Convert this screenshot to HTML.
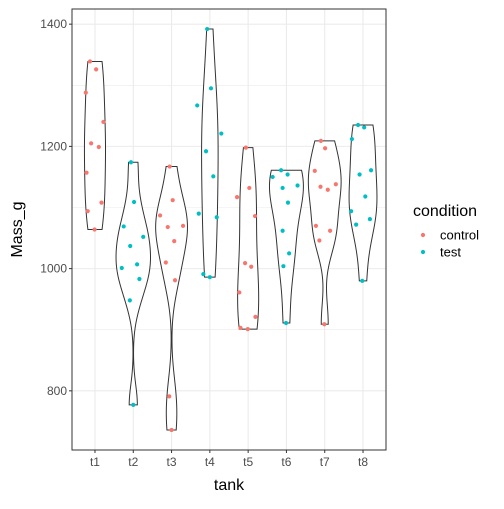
<!DOCTYPE html>
<html><head><meta charset="utf-8"><style>
body{margin:0;background:#fff}
svg text{font-family:"Liberation Sans",Arial,sans-serif}
</style></head><body>
<svg id="chart" width="504" height="504" viewBox="0 0 504 504" xmlns="http://www.w3.org/2000/svg"></svg>
<script>
const categories=["t1","t2","t3","t4","t5","t6","t7","t8"];
const groupCondition=["control","test","control","test","control","test","control","test"];
const massT1=[1339,1326,1288,1240,1205,1199,1157,1108,1094,1064];
const massT2=[1174,1109,1069,1052,1037,1001,1007,983,948,777];
const massT3=[1167,1112,1087,1068,1070,1045,1010,981,791,736];
const massT4=[1392,1295,1267,1221,1192,1151,1090,1084,991,986];
const massT5=[1198,1117,1132,1086,1009,1003,961,921,903,901];
const massT6=[1161,1150,1154,1136,1132,1108,1062,1025,1004,911];
const massT7=[1209,1197,1160,1134,1129,1138,1070,1062,1046,909];
const massT8=[1235,1231,1212,1154,1161,1118,1094,1072,1081,980];
const jitT1=[-0.13,0.03,-0.24,0.22,-0.10,0.10,-0.22,0.17,-0.19,-0.01];
const jitT2=[-0.06,0.02,-0.25,0.26,-0.08,-0.30,0.10,0.16,-0.09,0];
const jitT3=[-0.05,0.03,-0.30,-0.10,0.30,0.07,-0.15,0.09,-0.06,0];
const jitT4=[-0.07,0.03,-0.33,0.30,-0.10,0.09,-0.29,0.18,-0.17,0];
const jitT5=[-0.06,-0.29,0.03,0.18,-0.08,0.08,-0.23,0.19,-0.20,-0.01];
const jitT6=[-0.14,-0.36,0.03,0.29,-0.10,0.04,-0.10,0.07,-0.08,-0.01];
const jitT7=[-0.10,0.01,-0.26,-0.11,0.08,0.29,-0.23,0.14,-0.14,-0.01];
const jitT8=[-0.13,0.03,-0.29,-0.09,0.21,0.06,-0.31,-0.18,0.18,-0.02];
const yTicks=[800,1000,1200,1400];
const yMinor=[700,900,1100,1300];
const legendLabels=["control","test"];

const masses=[massT1,massT2,massT3,massT4,massT5,massT6,massT7,massT8];
const jitters=[jitT1,jitT2,jitT3,jitT4,jitT5,jitT6,jitT7,jitT8];
const colors={control:"#F8766D",test:"#00BFC4"};
const svg=document.getElementById('chart');
const NS="http://www.w3.org/2000/svg";
const P={l:72,r:386,t:9,b:450};
let all=[].concat(...masses);
let mn=Math.min(...all),mx=Math.max(...all),pad=(mx-mn)*0.05;
const yLo=mn-pad,yHi=mx+pad;
const y=v=>P.b-(v-yLo)/(yHi-yLo)*(P.b-P.t);
const x=i=>P.l+(i+0.6)/8.2*(P.r-P.l);
const unit=(P.r-P.l)/8.2;
function mk(tag,attrs,parent){const e=document.createElementNS(NS,tag);for(const k in attrs)e.setAttribute(k,attrs[k]);(parent||svg).appendChild(e);return e;}

let t;
t=mk('rect',{x:P.l,y:P.t,width:P.r-P.l,height:P.b-P.t,fill:'#fff'});


yMinor.forEach(v=>{if(v>yLo&&v<yHi){let l=mk('line',{x1:P.l,x2:P.r,y1:y(v),y2:y(v),stroke:'#ebebeb','stroke-width':0.6});

}});
yTicks.forEach(v=>{let l=mk('line',{x1:P.l,x2:P.r,y1:y(v),y2:y(v),stroke:'#ebebeb','stroke-width':1.1});

});
categories.forEach((c,i)=>{let l=mk('line',{x1:x(i),x2:x(i),y1:P.t,y2:P.b,stroke:'#ebebeb','stroke-width':1.1});

});

function quantile(s,p){const h=(s.length-1)*p,lo=Math.floor(h);return s[lo]+(h-lo)*((s[lo+1]??s[lo])-s[lo]);}
function bw(d){const n=d.length,m=d.reduce((a,b)=>a+b)/n;const sd=Math.sqrt(d.reduce((a,b)=>a+(b-m)**2,0)/(n-1));const s=[...d].sort((a,b)=>a-b);const iqr=(quantile(s,0.75)-quantile(s,0.25))/1.34;return 0.9*Math.min(sd,iqr)*Math.pow(n,-0.2);}
const dens=masses.map(d=>{const h=bw(d),lo=Math.min(...d),hi=Math.max(...d),pts=[];for(let k=0;k<=200;k++){const v=lo+(hi-lo)*k/200;let s=0;d.forEach(a=>s+=Math.exp(-0.5*((v-a)/h)**2));pts.push([v,s/(d.length*h*Math.sqrt(2*Math.PI))]);}return pts;});
const maxD=Math.max(...dens.map(p=>Math.max(...p.map(q=>q[1]))));
dens.forEach((pts,i)=>{const cx=x(i);let r=pts.map(p=>[cx+p[1]/maxD*0.45*unit,y(p[0])]);let l=pts.slice().reverse().map(p=>[cx-p[1]/maxD*0.45*unit,y(p[0])]);
let d='M'+r.concat(l).map(p=>p[0].toFixed(2)+','+p[1].toFixed(2)).join('L')+'Z';
let e=mk('path',{d:d,fill:'#fff',stroke:'#333','stroke-width':1});

});
masses.forEach((d,i)=>{d.forEach((v,j)=>{let c=mk('circle',{cx:x(i)+jitters[i][j]*unit,cy:y(v),r:2.1,fill:colors[groupCondition[i]]});

});});
t=mk('rect',{x:P.l,y:P.t,width:P.r-P.l,height:P.b-P.t,fill:'none',stroke:'#333','stroke-width':1});


yTicks.forEach(v=>{let l=mk('line',{x1:P.l-3,x2:P.l,y1:y(v),y2:y(v),stroke:'#333'});


let tx=mk('text',{x:P.l-5,y:y(v)+4,'text-anchor':'end','font-size':12,fill:'#4d4d4d'});tx.textContent=v;

});
categories.forEach((c,i)=>{let l=mk('line',{x1:x(i),x2:x(i),y1:P.b,y2:P.b+3,stroke:'#333'});


let tx=mk('text',{x:x(i),y:P.b+16,'text-anchor':'middle','font-size':12,fill:'#4d4d4d'});tx.textContent=c;

});
t=mk('text',{x:(P.l+P.r)/2,y:490,'text-anchor':'middle','font-size':16,fill:'#000'});t.textContent='tank';


t=mk('text',{x:0,y:0,'text-anchor':'middle','font-size':16,fill:'#000',transform:'translate(22,'+((P.t+P.b)/2)+') rotate(-90)'});t.textContent='Mass_g';


t=mk('text',{x:413,y:216,'font-size':16,fill:'#000'});t.textContent='condition';


legendLabels.forEach((lab,k)=>{const yy=235+k*17;let c=mk('circle',{cx:423,cy:yy,r:2.1,fill:colors[lab]});


let tx=mk('text',{x:440,y:yy+4.5,'font-size':13,fill:'#000'});tx.textContent=lab;

});
</script>
</body></html>
